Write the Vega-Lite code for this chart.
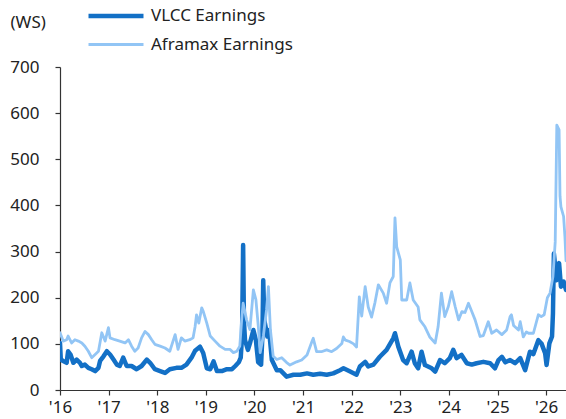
{
  "$schema": "https://vega.github.io/schema/vega-lite/v6.json",
  "width": 506,
  "height": 323,
  "autosize": {"type": "none"},
  "padding": {"left": 60, "top": 67, "right": 0, "bottom": 29},
  "background": "white",
  "config": {
    "view": {"stroke": null},
    "font": "Noto Sans",
    "axis": {"domainColor": "#333333", "tickColor": "#333333", "labelColor": "#222222", "labelFontSize": 16, "grid": false, "tickSize": 5, "domainWidth": 1.2, "tickWidth": 1.2}
  },
  "data": {"values": [
    {"date":"2016-01-01","series":"VLCC Earnings","value":102},
    {"date":"2016-01-07","series":"VLCC Earnings","value":66},
    {"date":"2016-01-25","series":"VLCC Earnings","value":63},
    {"date":"2016-02-20","series":"VLCC Earnings","value":59},
    {"date":"2016-03-02","series":"VLCC Earnings","value":84},
    {"date":"2016-03-20","series":"VLCC Earnings","value":77},
    {"date":"2016-04-10","series":"VLCC Earnings","value":59},
    {"date":"2016-05-05","series":"VLCC Earnings","value":66},
    {"date":"2016-05-30","series":"VLCC Earnings","value":59},
    {"date":"2016-06-13","series":"VLCC Earnings","value":52},
    {"date":"2016-07-06","series":"VLCC Earnings","value":55},
    {"date":"2016-08-01","series":"VLCC Earnings","value":48},
    {"date":"2016-08-26","series":"VLCC Earnings","value":45},
    {"date":"2016-09-21","series":"VLCC Earnings","value":41},
    {"date":"2016-10-16","series":"VLCC Earnings","value":48},
    {"date":"2016-10-28","series":"VLCC Earnings","value":63},
    {"date":"2016-11-23","series":"VLCC Earnings","value":73},
    {"date":"2016-12-18","series":"VLCC Earnings","value":84},
    {"date":"2017-01-11","series":"VLCC Earnings","value":77},
    {"date":"2017-02-06","series":"VLCC Earnings","value":66},
    {"date":"2017-03-03","series":"VLCC Earnings","value":55},
    {"date":"2017-03-25","series":"VLCC Earnings","value":52},
    {"date":"2017-04-20","series":"VLCC Earnings","value":70},
    {"date":"2017-05-16","series":"VLCC Earnings","value":52},
    {"date":"2017-06-22","series":"VLCC Earnings","value":52},
    {"date":"2017-07-30","series":"VLCC Earnings","value":45},
    {"date":"2017-09-05","series":"VLCC Earnings","value":52},
    {"date":"2017-10-14","series":"VLCC Earnings","value":66},
    {"date":"2017-11-08","series":"VLCC Earnings","value":59},
    {"date":"2017-12-14","series":"VLCC Earnings","value":45},
    {"date":"2018-01-22","series":"VLCC Earnings","value":41},
    {"date":"2018-02-28","series":"VLCC Earnings","value":37},
    {"date":"2018-04-05","series":"VLCC Earnings","value":45},
    {"date":"2018-05-25","series":"VLCC Earnings","value":48},
    {"date":"2018-07-01","series":"VLCC Earnings","value":48},
    {"date":"2018-08-08","series":"VLCC Earnings","value":55},
    {"date":"2018-09-15","series":"VLCC Earnings","value":70},
    {"date":"2018-10-12","series":"VLCC Earnings","value":85},
    {"date":"2018-11-18","series":"VLCC Earnings","value":94},
    {"date":"2018-12-12","series":"VLCC Earnings","value":80},
    {"date":"2019-01-08","series":"VLCC Earnings","value":47},
    {"date":"2019-02-03","series":"VLCC Earnings","value":45},
    {"date":"2019-02-28","series":"VLCC Earnings","value":62},
    {"date":"2019-03-25","series":"VLCC Earnings","value":41},
    {"date":"2019-05-01","series":"VLCC Earnings","value":41},
    {"date":"2019-06-08","series":"VLCC Earnings","value":45},
    {"date":"2019-07-16","series":"VLCC Earnings","value":45},
    {"date":"2019-08-10","series":"VLCC Earnings","value":52},
    {"date":"2019-09-05","series":"VLCC Earnings","value":60},
    {"date":"2019-09-20","series":"VLCC Earnings","value":70},
    {"date":"2019-09-30","series":"VLCC Earnings","value":116},
    {"date":"2019-10-08","series":"VLCC Earnings","value":314},
    {"date":"2019-10-14","series":"VLCC Earnings","value":150},
    {"date":"2019-10-22","series":"VLCC Earnings","value":108},
    {"date":"2019-11-13","series":"VLCC Earnings","value":87},
    {"date":"2019-11-28","series":"VLCC Earnings","value":101},
    {"date":"2019-12-24","series":"VLCC Earnings","value":130},
    {"date":"2020-01-12","series":"VLCC Earnings","value":108},
    {"date":"2020-01-29","series":"VLCC Earnings","value":60},
    {"date":"2020-02-20","series":"VLCC Earnings","value":55},
    {"date":"2020-03-01","series":"VLCC Earnings","value":120},
    {"date":"2020-03-07","series":"VLCC Earnings","value":238},
    {"date":"2020-03-15","series":"VLCC Earnings","value":152},
    {"date":"2020-04-07","series":"VLCC Earnings","value":116},
    {"date":"2020-04-20","series":"VLCC Earnings","value":130},
    {"date":"2020-05-11","series":"VLCC Earnings","value":65},
    {"date":"2020-06-17","series":"VLCC Earnings","value":43},
    {"date":"2020-07-13","series":"VLCC Earnings","value":43},
    {"date":"2020-08-30","series":"VLCC Earnings","value":29},
    {"date":"2020-10-20","series":"VLCC Earnings","value":33},
    {"date":"2020-12-10","series":"VLCC Earnings","value":33},
    {"date":"2021-01-30","series":"VLCC Earnings","value":36},
    {"date":"2021-03-18","series":"VLCC Earnings","value":33},
    {"date":"2021-05-08","series":"VLCC Earnings","value":35},
    {"date":"2021-06-27","series":"VLCC Earnings","value":33},
    {"date":"2021-08-15","series":"VLCC Earnings","value":36},
    {"date":"2021-10-05","series":"VLCC Earnings","value":43},
    {"date":"2021-10-31","series":"VLCC Earnings","value":47},
    {"date":"2021-12-20","series":"VLCC Earnings","value":40},
    {"date":"2022-02-06","series":"VLCC Earnings","value":33},
    {"date":"2022-03-03","series":"VLCC Earnings","value":51},
    {"date":"2022-04-12","series":"VLCC Earnings","value":61},
    {"date":"2022-05-05","series":"VLCC Earnings","value":51},
    {"date":"2022-06-13","series":"VLCC Earnings","value":55},
    {"date":"2022-07-31","series":"VLCC Earnings","value":72},
    {"date":"2022-09-20","series":"VLCC Earnings","value":87},
    {"date":"2022-11-09","series":"VLCC Earnings","value":112},
    {"date":"2022-11-22","series":"VLCC Earnings","value":123},
    {"date":"2022-12-17","series":"VLCC Earnings","value":94},
    {"date":"2023-01-22","series":"VLCC Earnings","value":65},
    {"date":"2023-02-18","series":"VLCC Earnings","value":58},
    {"date":"2023-03-27","series":"VLCC Earnings","value":83},
    {"date":"2023-04-20","series":"VLCC Earnings","value":58},
    {"date":"2023-05-15","series":"VLCC Earnings","value":47},
    {"date":"2023-06-10","series":"VLCC Earnings","value":83},
    {"date":"2023-07-05","series":"VLCC Earnings","value":54},
    {"date":"2023-08-25","series":"VLCC Earnings","value":47},
    {"date":"2023-09-20","series":"VLCC Earnings","value":40},
    {"date":"2023-10-27","series":"VLCC Earnings","value":65},
    {"date":"2023-12-01","series":"VLCC Earnings","value":58},
    {"date":"2024-01-08","series":"VLCC Earnings","value":69},
    {"date":"2024-02-03","series":"VLCC Earnings","value":87},
    {"date":"2024-02-28","series":"VLCC Earnings","value":69},
    {"date":"2024-04-05","series":"VLCC Earnings","value":76},
    {"date":"2024-05-15","series":"VLCC Earnings","value":58},
    {"date":"2024-06-21","series":"VLCC Earnings","value":55},
    {"date":"2024-07-27","series":"VLCC Earnings","value":58},
    {"date":"2024-09-16","series":"VLCC Earnings","value":61},
    {"date":"2024-11-06","series":"VLCC Earnings","value":58},
    {"date":"2024-12-12","series":"VLCC Earnings","value":47},
    {"date":"2025-01-08","series":"VLCC Earnings","value":65},
    {"date":"2025-02-02","series":"VLCC Earnings","value":72},
    {"date":"2025-02-28","series":"VLCC Earnings","value":60},
    {"date":"2025-04-05","series":"VLCC Earnings","value":65},
    {"date":"2025-05-12","series":"VLCC Earnings","value":58},
    {"date":"2025-06-20","series":"VLCC Earnings","value":69},
    {"date":"2025-07-27","series":"VLCC Earnings","value":43},
    {"date":"2025-09-01","series":"VLCC Earnings","value":83},
    {"date":"2025-09-27","series":"VLCC Earnings","value":78},
    {"date":"2025-11-03","series":"VLCC Earnings","value":108},
    {"date":"2025-11-28","series":"VLCC Earnings","value":100},
    {"date":"2025-12-24","series":"VLCC Earnings","value":80},
    {"date":"2026-01-04","series":"VLCC Earnings","value":54},
    {"date":"2026-01-25","series":"VLCC Earnings","value":101},
    {"date":"2026-02-14","series":"VLCC Earnings","value":116},
    {"date":"2026-02-21","series":"VLCC Earnings","value":166},
    {"date":"2026-02-28","series":"VLCC Earnings","value":296},
    {"date":"2026-03-20","series":"VLCC Earnings","value":238},
    {"date":"2026-04-08","series":"VLCC Earnings","value":275},
    {"date":"2026-04-22","series":"VLCC Earnings","value":224},
    {"date":"2026-05-12","series":"VLCC Earnings","value":235},
    {"date":"2026-05-30","series":"VLCC Earnings","value":217},
    {"date":"2016-01-01","series":"Aframax Earnings","value":124},
    {"date":"2016-01-25","series":"Aframax Earnings","value":106},
    {"date":"2016-02-20","series":"Aframax Earnings","value":109},
    {"date":"2016-03-02","series":"Aframax Earnings","value":117},
    {"date":"2016-03-28","series":"Aframax Earnings","value":102},
    {"date":"2016-04-22","series":"Aframax Earnings","value":109},
    {"date":"2016-05-18","series":"Aframax Earnings","value":106},
    {"date":"2016-06-13","series":"Aframax Earnings","value":102},
    {"date":"2016-07-06","series":"Aframax Earnings","value":95},
    {"date":"2016-08-01","series":"Aframax Earnings","value":84},
    {"date":"2016-08-26","series":"Aframax Earnings","value":70},
    {"date":"2016-09-21","series":"Aframax Earnings","value":77},
    {"date":"2016-10-16","series":"Aframax Earnings","value":84},
    {"date":"2016-11-10","series":"Aframax Earnings","value":124},
    {"date":"2016-12-05","series":"Aframax Earnings","value":106},
    {"date":"2016-12-30","series":"Aframax Earnings","value":135},
    {"date":"2017-01-11","series":"Aframax Earnings","value":113},
    {"date":"2017-02-17","series":"Aframax Earnings","value":109},
    {"date":"2017-03-25","series":"Aframax Earnings","value":106},
    {"date":"2017-05-04","series":"Aframax Earnings","value":102},
    {"date":"2017-05-29","series":"Aframax Earnings","value":109},
    {"date":"2017-06-22","series":"Aframax Earnings","value":95},
    {"date":"2017-07-16","series":"Aframax Earnings","value":84},
    {"date":"2017-08-10","series":"Aframax Earnings","value":91},
    {"date":"2017-09-05","series":"Aframax Earnings","value":113},
    {"date":"2017-10-01","series":"Aframax Earnings","value":127},
    {"date":"2017-10-26","series":"Aframax Earnings","value":120},
    {"date":"2017-11-20","series":"Aframax Earnings","value":109},
    {"date":"2017-12-14","series":"Aframax Earnings","value":99},
    {"date":"2018-01-22","series":"Aframax Earnings","value":95},
    {"date":"2018-02-28","series":"Aframax Earnings","value":91},
    {"date":"2018-04-05","series":"Aframax Earnings","value":84},
    {"date":"2018-05-15","series":"Aframax Earnings","value":120},
    {"date":"2018-06-06","series":"Aframax Earnings","value":88},
    {"date":"2018-07-01","series":"Aframax Earnings","value":113},
    {"date":"2018-07-27","series":"Aframax Earnings","value":106},
    {"date":"2018-09-02","series":"Aframax Earnings","value":109},
    {"date":"2018-09-27","series":"Aframax Earnings","value":113},
    {"date":"2018-10-12","series":"Aframax Earnings","value":137},
    {"date":"2018-10-23","series":"Aframax Earnings","value":163},
    {"date":"2018-11-09","series":"Aframax Earnings","value":145},
    {"date":"2018-12-01","series":"Aframax Earnings","value":178},
    {"date":"2018-12-13","series":"Aframax Earnings","value":170},
    {"date":"2019-01-08","series":"Aframax Earnings","value":145},
    {"date":"2019-02-03","series":"Aframax Earnings","value":117},
    {"date":"2019-03-11","series":"Aframax Earnings","value":106},
    {"date":"2019-04-17","series":"Aframax Earnings","value":95},
    {"date":"2019-05-26","series":"Aframax Earnings","value":88},
    {"date":"2019-07-02","series":"Aframax Earnings","value":88},
    {"date":"2019-07-27","series":"Aframax Earnings","value":81},
    {"date":"2019-08-22","series":"Aframax Earnings","value":84},
    {"date":"2019-09-13","series":"Aframax Earnings","value":95},
    {"date":"2019-09-27","series":"Aframax Earnings","value":152},
    {"date":"2019-10-08","series":"Aframax Earnings","value":188},
    {"date":"2019-11-03","series":"Aframax Earnings","value":152},
    {"date":"2019-11-28","series":"Aframax Earnings","value":131},
    {"date":"2019-12-24","series":"Aframax Earnings","value":217},
    {"date":"2020-01-12","series":"Aframax Earnings","value":196},
    {"date":"2020-01-30","series":"Aframax Earnings","value":138},
    {"date":"2020-02-13","series":"Aframax Earnings","value":81},
    {"date":"2020-03-08","series":"Aframax Earnings","value":117},
    {"date":"2020-04-01","series":"Aframax Earnings","value":174},
    {"date":"2020-04-15","series":"Aframax Earnings","value":224},
    {"date":"2020-04-30","series":"Aframax Earnings","value":131},
    {"date":"2020-05-21","series":"Aframax Earnings","value":73},
    {"date":"2020-06-17","series":"Aframax Earnings","value":66},
    {"date":"2020-07-24","series":"Aframax Earnings","value":70},
    {"date":"2020-08-28","series":"Aframax Earnings","value":60},
    {"date":"2020-09-24","series":"Aframax Earnings","value":54},
    {"date":"2020-11-13","series":"Aframax Earnings","value":61},
    {"date":"2020-12-21","series":"Aframax Earnings","value":65},
    {"date":"2021-01-30","series":"Aframax Earnings","value":76},
    {"date":"2021-03-08","series":"Aframax Earnings","value":105},
    {"date":"2021-03-18","series":"Aframax Earnings","value":112},
    {"date":"2021-04-12","series":"Aframax Earnings","value":83},
    {"date":"2021-05-18","series":"Aframax Earnings","value":83},
    {"date":"2021-06-27","series":"Aframax Earnings","value":87},
    {"date":"2021-08-03","series":"Aframax Earnings","value":83},
    {"date":"2021-09-09","series":"Aframax Earnings","value":90},
    {"date":"2021-10-19","series":"Aframax Earnings","value":101},
    {"date":"2021-10-30","series":"Aframax Earnings","value":115},
    {"date":"2021-11-15","series":"Aframax Earnings","value":108},
    {"date":"2021-12-15","series":"Aframax Earnings","value":105},
    {"date":"2022-01-15","series":"Aframax Earnings","value":100},
    {"date":"2022-02-06","series":"Aframax Earnings","value":93},
    {"date":"2022-02-27","series":"Aframax Earnings","value":202},
    {"date":"2022-03-17","series":"Aframax Earnings","value":160},
    {"date":"2022-04-12","series":"Aframax Earnings","value":224},
    {"date":"2022-05-05","series":"Aframax Earnings","value":180},
    {"date":"2022-05-30","series":"Aframax Earnings","value":158},
    {"date":"2022-06-25","series":"Aframax Earnings","value":190},
    {"date":"2022-07-20","series":"Aframax Earnings","value":228},
    {"date":"2022-08-26","series":"Aframax Earnings","value":210},
    {"date":"2022-09-20","series":"Aframax Earnings","value":188},
    {"date":"2022-10-15","series":"Aframax Earnings","value":232},
    {"date":"2022-11-09","series":"Aframax Earnings","value":246},
    {"date":"2022-11-22","series":"Aframax Earnings","value":373},
    {"date":"2022-12-05","series":"Aframax Earnings","value":310},
    {"date":"2023-01-01","series":"Aframax Earnings","value":282},
    {"date":"2023-01-12","series":"Aframax Earnings","value":195},
    {"date":"2023-02-18","series":"Aframax Earnings","value":195},
    {"date":"2023-03-14","series":"Aframax Earnings","value":232},
    {"date":"2023-04-08","series":"Aframax Earnings","value":195},
    {"date":"2023-05-15","series":"Aframax Earnings","value":180},
    {"date":"2023-05-28","series":"Aframax Earnings","value":152},
    {"date":"2023-07-05","series":"Aframax Earnings","value":137},
    {"date":"2023-08-10","series":"Aframax Earnings","value":115},
    {"date":"2023-09-20","series":"Aframax Earnings","value":102},
    {"date":"2023-10-12","series":"Aframax Earnings","value":137},
    {"date":"2023-11-06","series":"Aframax Earnings","value":210},
    {"date":"2023-12-01","series":"Aframax Earnings","value":159},
    {"date":"2023-12-28","series":"Aframax Earnings","value":181},
    {"date":"2024-01-22","series":"Aframax Earnings","value":213},
    {"date":"2024-02-17","series":"Aframax Earnings","value":181},
    {"date":"2024-03-14","series":"Aframax Earnings","value":152},
    {"date":"2024-04-08","series":"Aframax Earnings","value":170},
    {"date":"2024-05-01","series":"Aframax Earnings","value":168},
    {"date":"2024-05-27","series":"Aframax Earnings","value":188},
    {"date":"2024-06-21","series":"Aframax Earnings","value":170},
    {"date":"2024-07-16","series":"Aframax Earnings","value":152},
    {"date":"2024-08-22","series":"Aframax Earnings","value":116},
    {"date":"2024-09-16","series":"Aframax Earnings","value":118},
    {"date":"2024-10-23","series":"Aframax Earnings","value":148},
    {"date":"2024-11-18","series":"Aframax Earnings","value":123},
    {"date":"2024-12-24","series":"Aframax Earnings","value":130},
    {"date":"2025-02-02","series":"Aframax Earnings","value":120},
    {"date":"2025-03-10","series":"Aframax Earnings","value":130},
    {"date":"2025-04-05","series":"Aframax Earnings","value":159},
    {"date":"2025-04-15","series":"Aframax Earnings","value":163},
    {"date":"2025-05-01","series":"Aframax Earnings","value":140},
    {"date":"2025-06-07","series":"Aframax Earnings","value":130},
    {"date":"2025-06-20","series":"Aframax Earnings","value":148},
    {"date":"2025-07-13","series":"Aframax Earnings","value":115},
    {"date":"2025-08-05","series":"Aframax Earnings","value":126},
    {"date":"2025-08-22","series":"Aframax Earnings","value":123},
    {"date":"2025-09-27","series":"Aframax Earnings","value":123},
    {"date":"2025-11-03","series":"Aframax Earnings","value":163},
    {"date":"2025-11-25","series":"Aframax Earnings","value":159},
    {"date":"2025-12-17","series":"Aframax Earnings","value":163},
    {"date":"2026-01-10","series":"Aframax Earnings","value":200},
    {"date":"2026-01-30","series":"Aframax Earnings","value":210},
    {"date":"2026-02-21","series":"Aframax Earnings","value":246},
    {"date":"2026-03-10","series":"Aframax Earnings","value":321},
    {"date":"2026-03-22","series":"Aframax Earnings","value":574},
    {"date":"2026-04-08","series":"Aframax Earnings","value":564},
    {"date":"2026-04-15","series":"Aframax Earnings","value":420},
    {"date":"2026-04-22","series":"Aframax Earnings","value":397},
    {"date":"2026-05-12","series":"Aframax Earnings","value":376},
    {"date":"2026-05-22","series":"Aframax Earnings","value":332},
    {"date":"2026-05-30","series":"Aframax Earnings","value":280}
  ]},
  "mark": {"type": "line", "clip": true, "strokeJoin": "round", "strokeCap": "round"},
  "encoding": {
    "x": {
      "field": "date", "type": "temporal",
      "scale": {"type": "utc", "domain": [{"year": 2016, "month": 1, "date": 1, "utc": true}, {"year": 2026, "month": 5, "date": 30, "utc": true}]},
      "axis": {"title": null, "format": "'%y", "tickCount": {"interval": "year", "step": 1}, "labelPadding": 4, "labelFontSize": 17, "labelFlush": false, "labelOverlap": false}
    },
    "y": {
      "field": "value", "type": "quantitative",
      "scale": {"domain": [0, 700], "nice": false},
      "axis": {"values": [0, 100, 200, 300, 400, 500, 600, 700], "title": "(WS)", "titleAngle": 0, "titleX": -50, "titleY": -45, "titleAlign": "left", "titleBaseline": "middle", "titleFontSize": 17, "titleFontWeight": "normal", "titleColor": "#222222", "labelPadding": 16, "labelFontSize": 17}
    },
    "color": {
      "field": "series", "type": "nominal",
      "scale": {"domain": ["VLCC Earnings", "Aframax Earnings"], "range": ["#1370C6", "#92C5F5"]},
      "legend": {"title": null, "orient": "none", "legendX": 40, "legendY": -67, "direction": "vertical", "symbolType": "M-2,0H2", "symbolSize": 756, "labelFontSize": 17, "labelColor": "#222222", "labelOffset": 19, "rowPadding": 4}
    },
    "strokeWidth": {
      "field": "series", "type": "nominal",
      "scale": {"domain": ["VLCC Earnings", "Aframax Earnings"], "range": [4.5, 2.8]},
      "legend": {"title": null, "orient": "none", "legendX": 40, "legendY": -67, "direction": "vertical", "symbolType": "M-2,0H2", "symbolSize": 756, "labelFontSize": 17, "labelColor": "#222222", "labelOffset": 19, "rowPadding": 4}
    }
  }
}
